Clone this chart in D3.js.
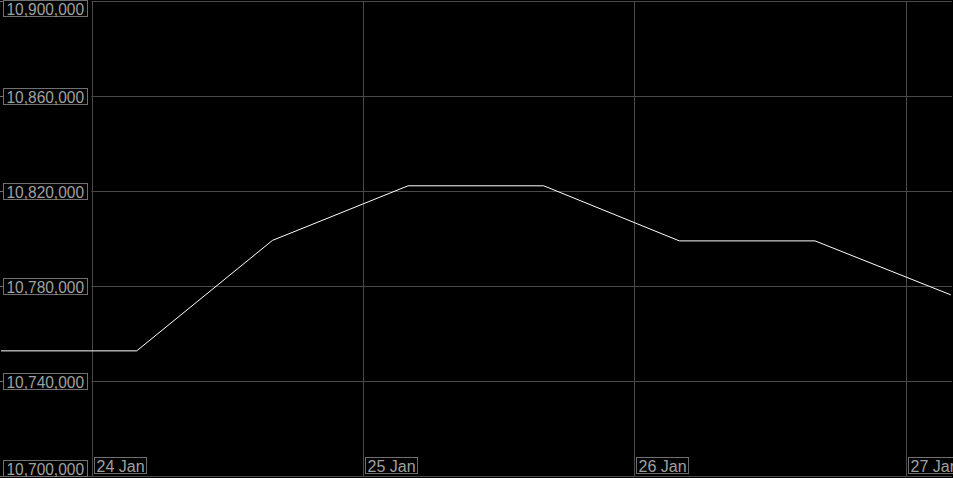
<!DOCTYPE html>
<html><head><meta charset="utf-8">
<script src="https://cdn.jsdelivr.net/npm/d3@7"></script>
<style>
html,body{margin:0;padding:0;background:#000;overflow:hidden;}
svg{display:block;}
text{font-family:"Liberation Sans",Arial,sans-serif;}
</style></head>
<body>
<svg id="c" width="953" height="478"></svg>
<script>
// Data
const times = ["2024-01-23T16:00","2024-01-24T04:00","2024-01-24T16:00","2024-01-25T04:00","2024-01-25T16:00","2024-01-26T04:00","2024-01-26T16:00","2024-01-27T04:00"];
const values = [10752900,10752900,10799400,10822400,10822400,10799200,10799200,10776500];
const yTicks = [10700000,10740000,10780000,10820000,10860000,10900000];
const xTicks = ["2024-01-24T00:00","2024-01-25T00:00","2024-01-26T00:00","2024-01-27T00:00"];

const W = 953, H = 478;
const svg = d3.select("#c");
svg.append("rect").attr("width",W).attr("height",H).attr("fill","#000");

const parse = d3.timeParse("%Y-%m-%dT%H:%M");
const x = d3.scaleTime().domain([parse(xTicks[0]), parse(xTicks[3])]).range([91.5, 905.5]);
const y = d3.scaleLinear().domain([10700000,10900000]).range([476.5, 1.5]);
const plotL = 91.5, plotR = 952;

const gridCol = "#4a4a4a";
const boxCol = "#707070";
const txtCol = "#a0a0a0";

// horizontal grid
svg.append("g").selectAll("line").data(yTicks).join("line")
  .attr("x1", d => d===10700000 ? 0 : plotL).attr("x2", plotR)
  .attr("y1", d => y(d)).attr("y2", d => y(d))
  .attr("stroke", gridCol).attr("stroke-width",1);
// vertical grid
svg.append("g").selectAll("line").data(xTicks).join("line")
  .attr("x1", d => Math.round(x(parse(d)))+0.5).attr("x2", d => Math.round(x(parse(d)))+0.5)
  .attr("y1", 1).attr("y2", 477)
  .attr("stroke", gridCol).attr("stroke-width",1);
// left small ticks
svg.append("g").selectAll("line").data(yTicks).join("line")
  .attr("x1",0).attr("x2",3).attr("y1",d=>y(d)).attr("y2",d=>y(d))
  .attr("stroke", boxCol);

// line
const line = d3.line().x((d,i)=>x(parse(times[i]))).y(d=>y(d));
svg.append("path").datum(values).attr("d", line)
  .attr("fill","none").attr("stroke","#fff").attr("stroke-width",1);

// y labels
const fmt = d3.format(",");
const yl = svg.append("g");
yTicks.forEach(v => {
  const g = yl.append("g");
  const t = g.append("text").text(fmt(v)).attr("font-size",16).attr("fill",txtCol)
    .attr("x",6.5).attr("y",0);
  const bh = 16, bw = 84;
  let top = y(v) - bh/2;
  if (top < 0.5) top = 0.5;
  if (top + bh > 476.5) top = 476.5 - bh;
  g.insert("rect","text").attr("x",3.5).attr("y",top).attr("width",bw).attr("height",bh)
    .attr("fill","#000").attr("stroke",boxCol).attr("stroke-width",1);
  t.attr("y", top + 14).attr("textLength", 77.5).attr("lengthAdjust","spacingAndGlyphs");
});

// x labels
const xf = d3.timeFormat("%-d %b");
const xl = svg.append("g");
xTicks.forEach(s => {
  const px = Math.round(x(parse(s))) + 0.5;
  const g = xl.append("g");
  const t = g.append("text").text(xf(parse(s))).attr("font-size",16).attr("fill",txtCol)
    .attr("x", px + 4).attr("y", 472);
  const bb = t.node().getBBox();
  g.insert("rect","text").attr("x",px+2).attr("y",457.5).attr("width",bb.width+4).attr("height",16)
    .attr("fill","#000").attr("stroke",boxCol).attr("stroke-width",1);
});
</script>
</body></html>
